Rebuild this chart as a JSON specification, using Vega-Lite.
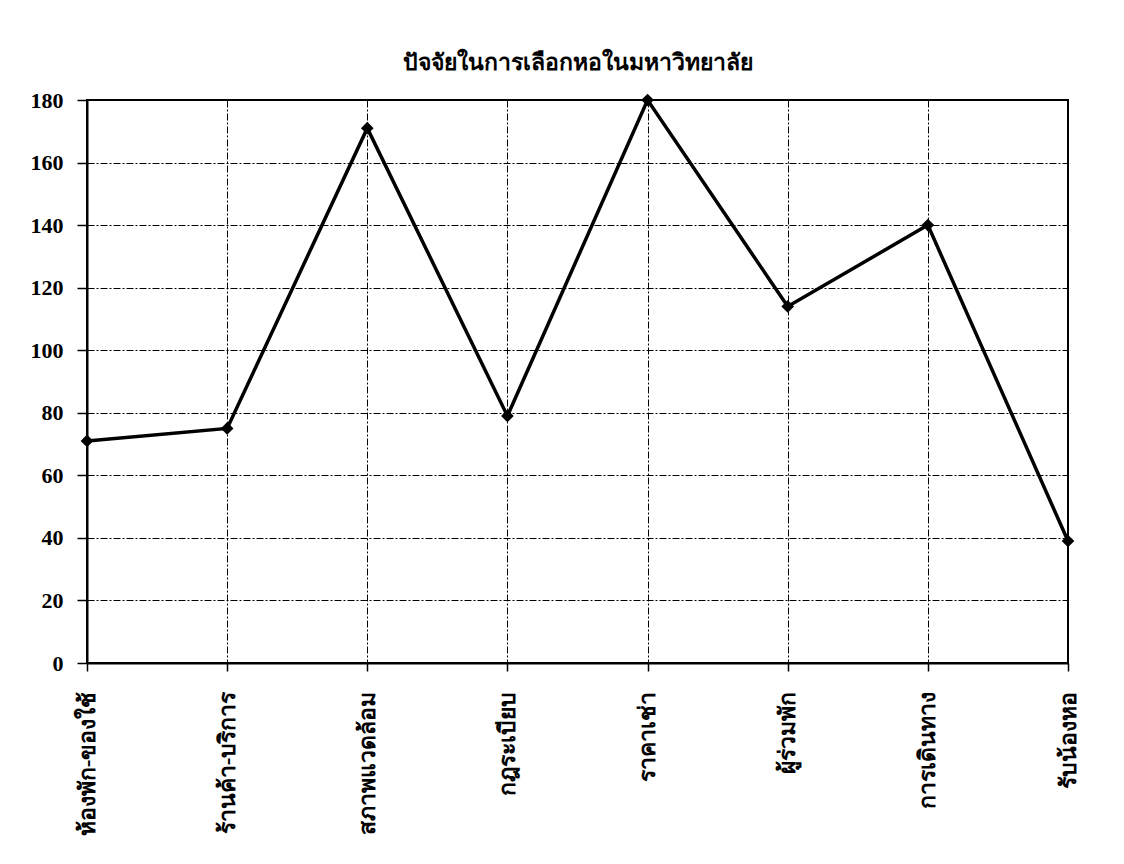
{
  "$schema": "https://vega.github.io/schema/vega-lite/v6.json",
  "autosize": "none",
  "width": 981,
  "height": 563,
  "padding": {"left": 87, "top": 100, "right": 56, "bottom": 201},
  "background": "white",
  "title": {
    "text": "ปัจจัยในการเลือกหอในมหาวิทยาลัย",
    "fontSize": 23,
    "fontWeight": "bold",
    "font": "Times New Roman, Liberation Serif, DejaVu Serif, serif",
    "color": "black",
    "anchor": "middle",
    "offset": 14
  },
  "data": {
    "values": [
      {"factor": "ห้องพัก-ของใช้", "count": 71},
      {"factor": "ร้านค้า-บริการ", "count": 75},
      {"factor": "สภาพแวดล้อม", "count": 171},
      {"factor": "กฎระเบียบ", "count": 79},
      {"factor": "ราคาเช่า", "count": 180},
      {"factor": "ผู้ร่วมพัก", "count": 114},
      {"factor": "การเดินทาง", "count": 140},
      {"factor": "รับน้องหอ", "count": 39}
    ]
  },
  "encoding": {
    "x": {
      "field": "factor",
      "type": "ordinal",
      "sort": null,
      "scale": {"type": "point", "padding": 0},
      "axis": {
        "title": null,
        "labelAngle": -90,
        "labelFontSize": 23,
        "labelFont": "Times New Roman, Liberation Serif, DejaVu Serif, serif",
        "labelFontWeight": "bold",
        "labelColor": "black",
        "labelPadding": 20,
        "tickSize": 8,
        "tickColor": "black",
        "tickWidth": 1.5,
        "domainColor": "black",
        "domainWidth": 2,
        "grid": true,
        "gridColor": "black",
        "gridDash": [7, 2, 2, 2],
        "gridWidth": 1,
        "gridOpacity": 1
      }
    },
    "y": {
      "field": "count",
      "type": "quantitative",
      "scale": {"domain": [0, 180], "nice": false},
      "axis": {
        "title": null,
        "values": [0, 20, 40, 60, 80, 100, 120, 140, 160, 180],
        "labelFontSize": 22,
        "labelFont": "Times New Roman, Liberation Serif, DejaVu Serif, serif",
        "labelFontWeight": "bold",
        "labelColor": "black",
        "labelPadding": 14,
        "tickSize": 10,
        "tickColor": "black",
        "tickWidth": 1.5,
        "domainColor": "black",
        "domainWidth": 2,
        "grid": true,
        "gridColor": "black",
        "gridDash": [7, 2, 2, 2],
        "gridWidth": 1,
        "gridOpacity": 1
      }
    }
  },
  "layer": [
    {
      "mark": {"type": "line", "color": "black", "strokeWidth": 3.5}
    },
    {
      "mark": {"type": "point", "shape": "diamond", "filled": true, "color": "black", "size": 160, "opacity": 1}
    }
  ],
  "config": {
    "view": {"stroke": "black", "strokeWidth": 2}
  }
}
